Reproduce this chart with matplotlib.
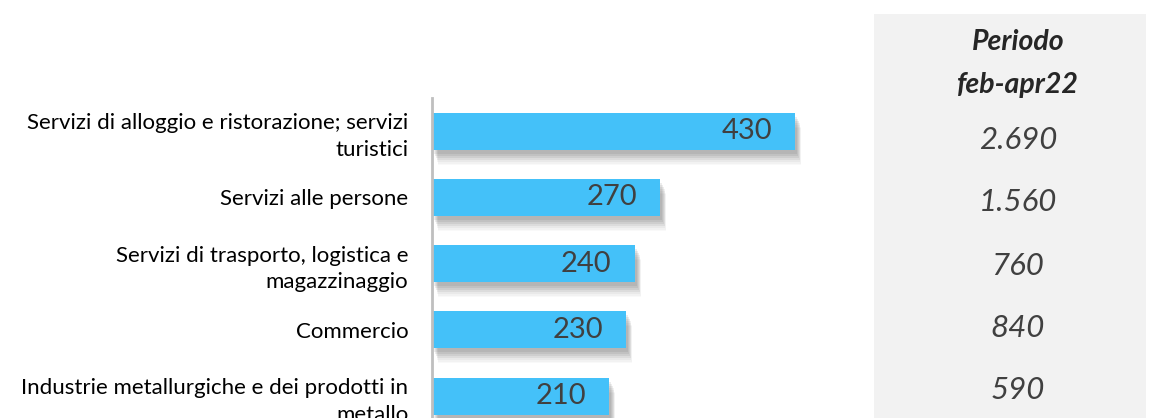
import matplotlib
matplotlib.use("Agg")
import matplotlib.pyplot as plt
import matplotlib.transforms as mtransforms
from matplotlib.patches import Rectangle

plt.rcParams['font.family'] = ['Lato', 'DejaVu Sans']

categories = [
    "Servizi di alloggio e ristorazione; servizi\nturistici",
    "Servizi alle persone",
    "Servizi di trasporto, logistica e\nmagazzinaggio",
    "Commercio",
    "Industrie metallurgiche e dei prodotti in\nmetallo",
]
values = [430, 270, 240, 230, 210]
table_header = ["Periodo", "feb-apr22"]
table_values = ["2.690", "1.560", "760", "840", "590"]

W, H = 1152, 418
fig = plt.figure(figsize=(W / 100, H / 100), dpi=100)

# grey table panel
fig.patches.append(Rectangle((874 / W, 0), 272 / W, (H - 14) / H,
                             transform=fig.transFigure, facecolor="#f2f2f2",
                             edgecolor="none", zorder=0))

ax = fig.add_axes([432 / W, 0, (860 - 432) / W, 1 - 98 / H])
ax.set_facecolor("none")
ypos = list(range(len(values)))
bar_h = 0.56

# soft shadow
for dx, dy, a in [(2, -4, 0.10), (3, -6, 0.10), (4, -8, 0.10), (5, -10, 0.08),
                  (5, -12, 0.06), (6, -14, 0.04), (6, -15, 0.03)]:
    tr = ax.transData + mtransforms.ScaledTranslation(dx / 100, dy / 100, fig.dpi_scale_trans)
    ax.barh(ypos, values, height=bar_h, color="#555555", alpha=a, transform=tr, zorder=1, linewidth=0)

bars = ax.barh(ypos, values, height=bar_h, color="#44c1f9", zorder=2, linewidth=0)

for y, v in zip(ypos, values):
    ax.annotate(f"{v}", xy=(v, y), xytext=(-16.5, 0), textcoords="offset points",
                ha="right", va="center", fontsize=21, color="#404040", zorder=3)

ax.set_xlim(0, (860 - 432) / 0.844)
ax.set_ylim(4.33, -0.5)
ax.set_yticks(ypos)
ax.set_yticklabels(categories, fontsize=16, color="#000000", ha="right", linespacing=1.4)
ax.tick_params(axis="y", length=0, pad=17)
ax.set_xticks([])
for s in ["top", "right", "bottom"]:
    ax.spines[s].set_visible(False)
ax.spines["left"].set_color("#bfbfbf")
ax.spines["left"].set_linewidth(2)

cx = 1018 / W
fig.text(cx, 1 - 42 / H, table_header[0], ha="center", va="center", fontsize=20.5,
         fontstyle="italic", fontweight="bold", color="#262626")
fig.text(cx, 1 - 85 / H, table_header[1], ha="center", va="center", fontsize=20.5,
         fontstyle="italic", fontweight="bold", color="#262626")
for yp, t in zip([140, 202, 266, 328, 390], table_values):
    fig.text(cx, 1 - yp / H, t, ha="center", va="center", fontsize=22.5,
             fontstyle="italic", color="#404040")

fig.savefig("out.png", dpi=100)
